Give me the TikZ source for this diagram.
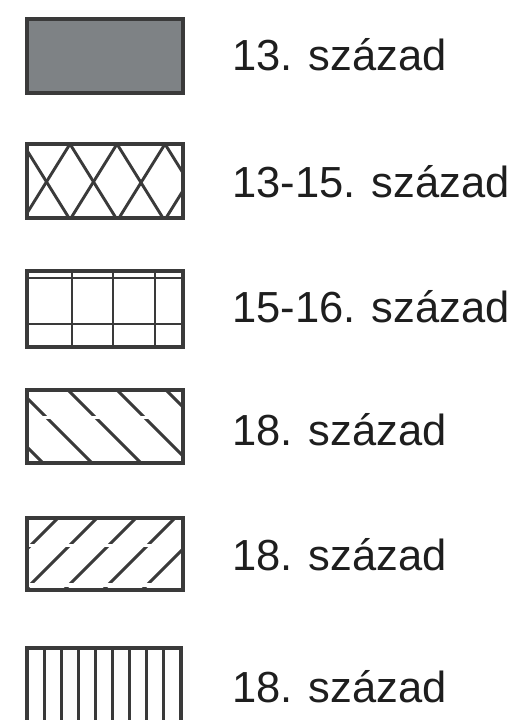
\documentclass[tikz,border=0pt]{standalone}
\usepackage{fontspec}
\setmainfont{Liberation Sans}
\definecolor{linecol}{HTML}{3A3A3A}
\definecolor{boxgray}{HTML}{7E8285}
\definecolor{textcol}{HTML}{1E1E1E}
\begin{document}
\begin{tikzpicture}[x=1pt,y=-1pt,
  frame/.style={draw=linecol, line width=3.4pt},
  hatch/.style={draw=linecol, line width=2.9pt},
  legendtext/.style={anchor=base west, inner sep=0pt, text=textcol, font=\fontsize{43.5}{52}\selectfont}]
\useasboundingbox (0,0) rectangle (523,720);
\fill[white] (0,0) rectangle (523,720);

% Box 1: solid
\filldraw[fill=boxgray, frame] (27,19) rectangle (183,93);

% Box 2: diamonds
\begin{scope}
  \clip (27,144) rectangle (183,218);
  \foreach \c in {-24,23,70,117,165,212,259} {
    \draw[hatch] (\c+23,107) -- (\c-69,255);
    \draw[hatch] (\c-23,107) -- (\c+69,255);
  }
\end{scope}
\draw[frame] (27,144) rectangle (183,218);

% Box 3: grid
\draw[hatch] (27,278) -- (183,278);
\draw[hatch] (27,324) -- (183,324);
\foreach \x in {72,113,155} { \draw[hatch] (\x,271) -- (\x,347); }
\draw[frame] (27,271) rectangle (183,347);

% Box 4: down-right hatching
\begin{scope}
  \clip (27,390) rectangle (183,463);
  \foreach \x in {-30,19,68,117,166} { \draw[hatch] (\x-10,380) -- (\x+83,473); }
  \fill[white] (27,415.5) rectangle (183,418.5);
\end{scope}
\draw[frame] (27,390) rectangle (183,463);

% Box 5: up-right hatching
\begin{scope}
  \clip (27,518) rectangle (183,590);
  \foreach \x in {-14,25,64,103,142,181} { \draw[hatch] (\x-10,600) -- (\x+82,508); }
  \fill[white] (27,544) rectangle (183,546.5);
  \fill[white] (27,582.5) rectangle (183,586.5);
\end{scope}
\draw[frame] (27,518) rectangle (183,590);

% Box 6: vertical lines
\foreach \k in {1,...,8} { \draw[hatch] (27+17.1*\k,648) -- (27+17.1*\k,726); }
\draw[frame] (27,726) -- (27,648) -- (181,648) -- (181,726);

% Labels
\node[legendtext] (t1) at (232,70) {13. század};
\node[legendtext] (t2) at (232,197) {13-15. század};
\node[legendtext] (t3) at (232,322) {15-16. század};
\node[legendtext] (t4) at (232,445) {18. század};
\node[legendtext] (t5) at (232,570) {18. század};
\node[legendtext] (t6) at (232,702) {18. század};
\end{tikzpicture}
\end{document}
